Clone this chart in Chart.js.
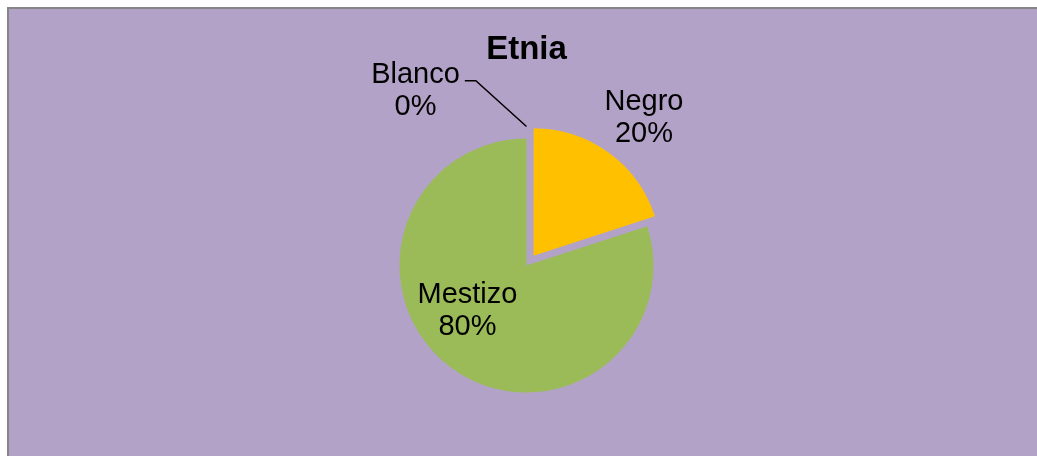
<!DOCTYPE html>
<html>
<head>
<meta charset="utf-8">
<script src="https://cdn.jsdelivr.net/npm/chart.js@4"></script>
<style>
  html, body { margin: 0; padding: 0; background: #fff; overflow: hidden; }
  .chart__wrap { position: relative; width: 1037px; height: 456px; }
</style>
</head>
<body>
<div class="chart__wrap"><canvas id="etnia"></canvas></div>
<script>
const categories = ["Blanco", "Negro", "Mestizo"];
const values = [0, 20, 80];
const sliceColors = ["#4F81BD", "#FFC000", "#9BBB59"];
const chartTitle = "Etnia";

// where each label sits, as fractions of the radius from the pie centre
const labelSpots = [
  { dx: -0.874, dy: -1.376 },
  { dx: 0.925, dy: -1.161 },
  { dx: -0.465, dy: 0.362 }
];

// purple chart box, only the left and top edges show in the picture
const chartBox = {
  id: "chartBox",
  beforeDraw(chart) {
    const ctx = chart.ctx;
    ctx.save();
    ctx.fillStyle = "#fff";
    ctx.fillRect(0, 0, chart.width, chart.height);
    ctx.fillStyle = "#868686";
    ctx.fillRect(7, 7, chart.width, chart.height);
    ctx.fillStyle = "#B3A2C7";
    ctx.fillRect(9, 9, chart.width, chart.height);
    ctx.restore();
  }
};

const pieLabels = {
  id: "pieLabels",
  afterDatasetsDraw(chart) {
    const ctx = chart.ctx;
    const meta = chart.getDatasetMeta(0);
    const total = values.reduce((a, b) => a + b, 0);
    ctx.save();
    ctx.font = "29px 'Liberation Sans', Arial, sans-serif";
    ctx.fillStyle = "#000";
    ctx.textAlign = "center";
    ctx.textBaseline = "middle";
    meta.data.forEach((arc, i) => {
      const r = arc.outerRadius;
      const x = arc.x + labelSpots[i].dx * r;
      const y = arc.y + labelSpots[i].dy * r;
      const pct = Math.round(values[i] / total * 100) + "%";
      ctx.fillText(categories[i], x, y - 16);
      ctx.fillText(pct, x, y + 16);

      // leader line for the empty slice
      if (values[i] === 0) {
        const w = ctx.measureText(categories[i]).width;
        const mid = (arc.startAngle + arc.endAngle) / 2;
        const sx = x + w / 2 + 5;
        const sy = y - 10;
        ctx.beginPath();
        ctx.lineWidth = 1.5;
        ctx.strokeStyle = "#000";
        ctx.moveTo(sx, sy);
        ctx.lineTo(sx + 11, sy);
        ctx.lineTo(arc.x + Math.cos(mid) * (r + 12), arc.y + Math.sin(mid) * (r + 12));
        ctx.stroke();
      }
    });
    ctx.restore();
  }
};

let etniaChart = new Chart(document.getElementById("etnia"), {
  type: "pie",
  data: {
    labels: categories,
    datasets: [
      {
        data: values,
        backgroundColor: sliceColors,
        borderWidth: 0,
        offset: [0, 48, 0],
        radius: 127
      }
    ]
  },
  options: {
    responsive: true,
    maintainAspectRatio: false,
    animation: false,
    layout: { padding: { left: 16, right: 0, top: 0, bottom: 0 } },
    plugins: {
      legend: { display: false },
      tooltip: { enabled: false },
      title: {
        display: true,
        text: chartTitle,
        color: "#000",
        font: { family: "'Liberation Sans', Arial, sans-serif", size: 33, weight: "bold", lineHeight: 1.2 },
        padding: { top: 30, bottom: 5.4 }
      }
    }
  },
  plugins: [chartBox, pieLabels]
});
</script>
</body>
</html>
